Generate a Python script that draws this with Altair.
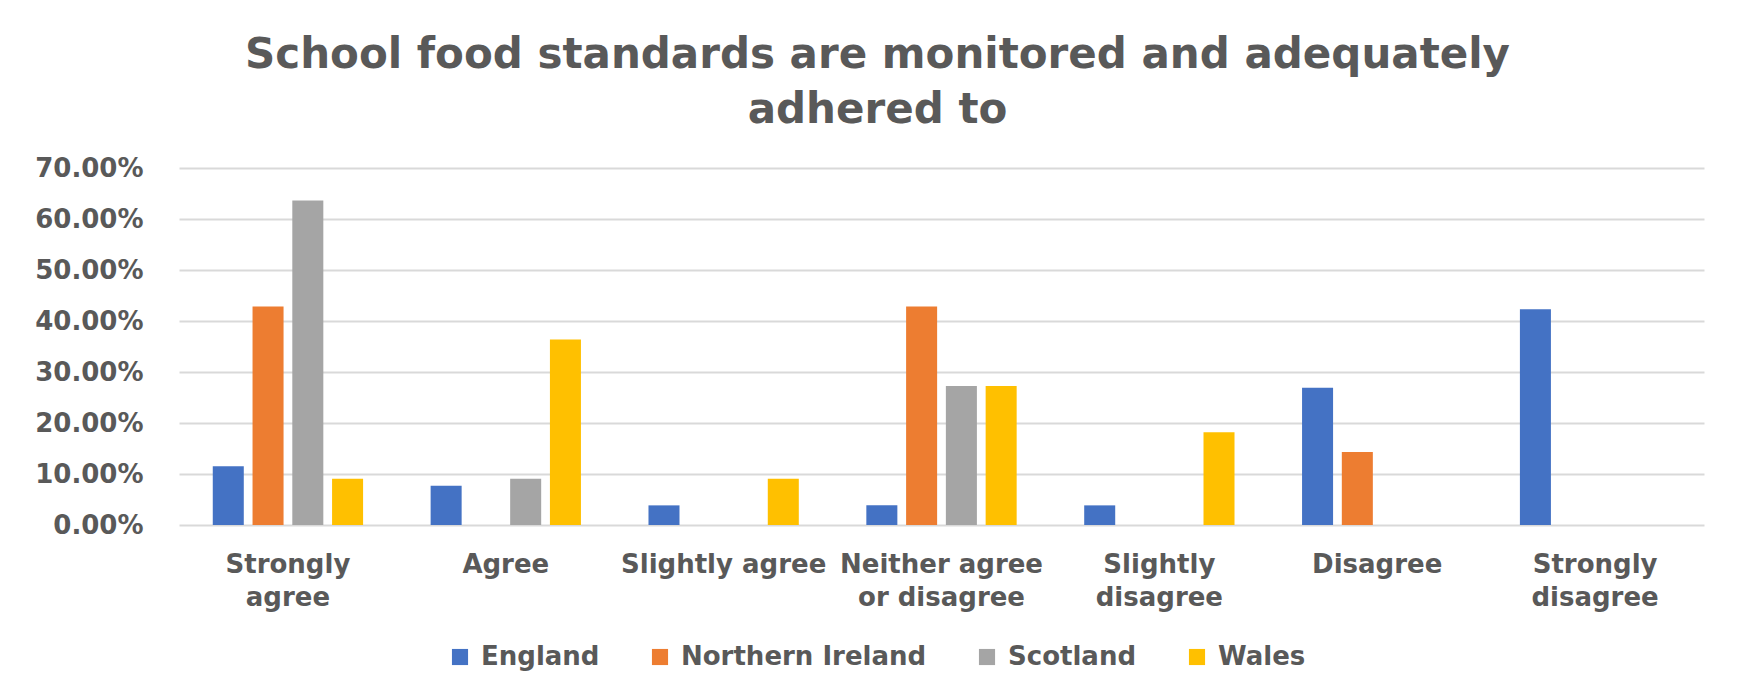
import altair as alt
import pandas as pd

categories = ["Strongly agree", "Agree", "Slightly agree", "Neither agree or disagree",
              "Slightly disagree", "Disagree", "Strongly disagree"]
category_lines = [["Strongly", "agree"], ["Agree"], ["Slightly agree"],
                  ["Neither agree", "or disagree"], ["Slightly", "disagree"],
                  ["Disagree"], ["Strongly", "disagree"]]
series = ["England", "Northern Ireland", "Scotland", "Wales"]
colors = ["#4472C4", "#ED7D31", "#A5A5A5", "#FFC000"]

england = [0.1154, 0.0769, 0.0385, 0.0385, 0.0385, 0.2692, 0.4231]
northern_ireland = [0.4286, 0.0, 0.0, 0.4286, 0.0, 0.1429, 0.0]
scotland = [0.6364, 0.0909, 0.0, 0.2727, 0.0, 0.0, 0.0]
wales = [0.0909, 0.3636, 0.0909, 0.2727, 0.1818, 0.0, 0.0]

values = {"England": england, "Northern Ireland": northern_ireland,
          "Scotland": scotland, "Wales": wales}

rows = []
for s in series:
    for c, v in zip(categories, values[s]):
        rows.append({"Category": c, "Country": s, "Value": v})
df = pd.DataFrame(rows)

label_map = "{" + ",".join(
    "'" + c + "':[" + ",".join("'" + p + "'" for p in lines) + "]"
    for c, lines in zip(categories, category_lines)) + "}"

FONT = "DejaVu Sans"
TXT = "#595959"

chart = alt.Chart(df).mark_bar().encode(
    x=alt.X("Category:N", sort=categories,
            scale=alt.Scale(paddingInner=0.31, paddingOuter=0.155),
            axis=alt.Axis(title=None, labelAngle=0, ticks=False, domain=False, grid=False,
                          labelExpr=label_map + "[datum.label]",
                          labelFont=FONT, labelFontWeight="bold", labelFontSize=26,
                          labelColor=TXT, labelPadding=26, labelLineHeight=33,
                          labelLimit=400)),
    xOffset=alt.XOffset("Country:N", sort=series,
                        scale=alt.Scale(paddingInner=0.22, paddingOuter=0)),
    y=alt.Y("Value:Q",
            scale=alt.Scale(domain=[0, 0.7], nice=False),
            axis=alt.Axis(title=None, format=".2%", values=[0, 0.1, 0.2, 0.3, 0.4, 0.5, 0.6, 0.7],
                          ticks=False, domain=False, gridColor="#D9D9D9", gridWidth=2,
                          labelFont=FONT, labelFontWeight="bold", labelFontSize=26,
                          labelColor=TXT, labelPadding=36)),
    color=alt.Color("Country:N", sort=series,
                    scale=alt.Scale(domain=series, range=colors),
                    legend=alt.Legend(title=None, orient="none", direction="horizontal",
                                      legendX=268, legendY=476,
                                      symbolType="square", symbolSize=260,
                                      symbolStrokeWidth=0, labelOffset=8,
                                      columnPadding=47, labelLimit=500,
                                      labelFont=FONT, labelFontWeight="bold",
                                      labelFontSize=26, labelColor=TXT)),
).properties(
    width=1525,
    height=357,
    background="white",
    title=alt.TitleParams(text=["School food standards are monitored and adequately", "adhered to"],
                          font=FONT, fontWeight="bold", fontSize=42, color=TXT,
                          anchor="middle", dx=-64, offset=23, lineHeight=55),
    autosize=alt.AutoSizeParams(type="none"),
    padding={"left": 171, "top": 160, "right": 40, "bottom": 160},
).configure_view(stroke=None)

chart.save("out.html", embed_options={"renderer": "svg", "actions": False})
